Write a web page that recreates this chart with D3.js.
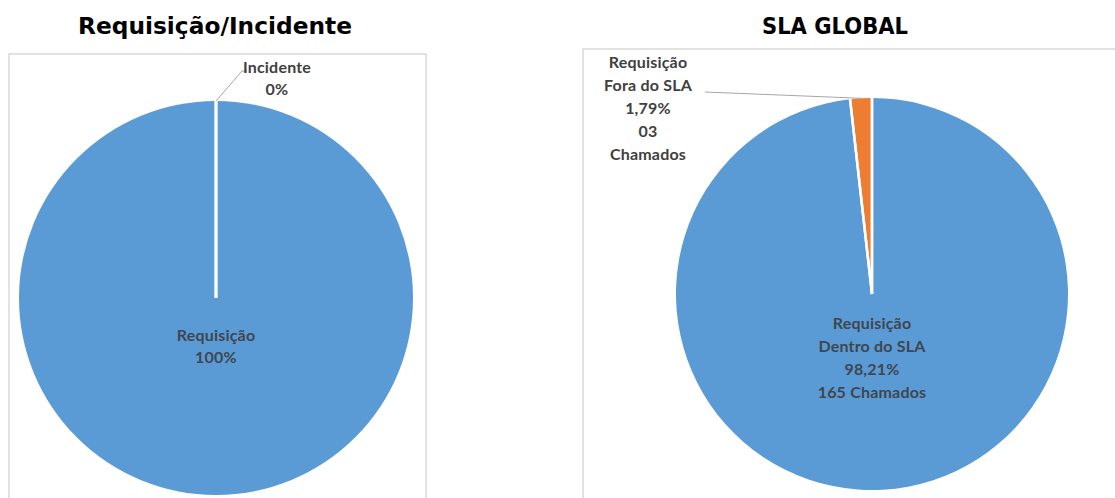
<!DOCTYPE html>
<html>
<head>
<meta charset="utf-8">
<script src="https://cdn.jsdelivr.net/npm/d3@7"></script>
<style>
  html, body { margin: 0; padding: 0; background: #ffffff; }
  svg { display: block; }
</style>
</head>
<body>
<svg id="chart" width="1115" height="498"></svg>
<script>
// ---- Data ----
const leftTitle = "Requisição/Incidente";
const leftCategories = ["Requisição", "Incidente"];
const leftValues = [100, 0];
const leftPercents = ["100%", "0%"];

const rightTitle = "SLA GLOBAL";
const rightCategories = [["Requisição", "Dentro do SLA"], ["Requisição", "Fora do SLA"]];
const rightValues = [165, 3];
const rightPercents = ["98,21%", "1,79%"];
const rightCounts = [["165 Chamados"], ["03", "Chamados"]];

const colors = ["#5B9BD5", "#ED7D31"];

// ---- Drawing ----
const svg = d3.select("#chart");
const labelFont = "Lato, 'Open Sans', sans-serif";
const titleFont = "'DejaVu Sans', sans-serif";

function drawPanel(cfg) {
  const g = svg.append("g");
  g.append("rect")
    .attr("x", cfg.box[0]).attr("y", cfg.box[1])
    .attr("width", cfg.box[2]).attr("height", cfg.box[3])
    .attr("fill", "#fff").attr("stroke", "#d9d9d9").attr("stroke-width", 1.5);
  svg.append("text")
    .attr("x", cfg.titlePos[0]).attr("y", cfg.titlePos[1])
    .attr("text-anchor", "middle")
    .attr("font-family", titleFont).attr("font-weight", "bold")
    .attr("font-size", cfg.titleSize).attr("fill", "#000")
    .attr("textLength", cfg.titleLen).attr("lengthAdjust", "spacingAndGlyphs")
    .text(cfg.title);

  const pie = d3.pie().sort(null).value(d => d)
    .startAngle(0).endAngle(2 * Math.PI);
  const arcs = pie(cfg.values);
  const arc = d3.arc().innerRadius(0).outerRadius(cfg.r);
  const pg = g.append("g").attr("transform", `translate(${cfg.cx},${cfg.cy})`);
  pg.selectAll("path.slice").data(arcs).enter().append("path")
    .attr("class", "slice")
    .attr("d", arc)
    .attr("fill", (d, i) => colors[i]);
  const bounds = [];
  arcs.forEach(d => { bounds.push(d.startAngle); bounds.push(d.endAngle); });
  pg.selectAll("line.sep").data(bounds).enter().append("line")
    .attr("class", "sep")
    .attr("x1", 0).attr("y1", 0)
    .attr("x2", a => Math.sin(a) * cfg.r)
    .attr("y2", a => -Math.cos(a) * cfg.r)
    .attr("stroke", "#fff").attr("stroke-width", 2.5);
  return { arcs, pg };
}

function multiline(parent, x, y, lines, lh, fill) {
  const t = parent.append("text")
    .attr("x", x).attr("y", y)
    .attr("text-anchor", "middle")
    .attr("font-family", labelFont).attr("font-weight", "bold")
    .attr("font-size", 16).attr("fill", fill)
    .attr("letter-spacing", 0.2);
  lines.forEach((l, i) => {
    t.append("tspan").attr("x", x).attr("y", y + i * lh).text(l);
  });
}

// Left panel
const L = { box: [9, 54, 417, 460], cx: 216, cy: 298, r: 197,
  title: leftTitle, titlePos: [215, 34], titleSize: 23, titleLen: 274, values: leftValues };
const left = drawPanel(L);
multiline(svg, L.cx, 341, [leftCategories[0], leftPercents[0]], 22, "#3f4650");
{
  const a = left.arcs[1];
  const mid = (a.startAngle + a.endAngle) / 2;
  const px = L.cx + Math.sin(mid) * L.r, py = L.cy - Math.cos(mid) * L.r;
  svg.append("polyline")
    .attr("points", `${px},${py} ${px + 26},${py - 30} ${px + 31},${py - 30}`)
    .attr("fill", "none").attr("stroke", "#a6a6a6").attr("stroke-width", 1);
  multiline(svg, 277, 73, [leftCategories[1], leftPercents[1]], 22, "#404040");
}

// Right panel
const R = { box: [583, 49, 540, 460], cx: 872, cy: 294, r: 196,
  title: rightTitle, titlePos: [835, 34], titleSize: 23, titleLen: 146, values: rightValues };
const right = drawPanel(R);
multiline(svg, R.cx, 329,
  [...rightCategories[0], rightPercents[0], ...rightCounts[0]], 23, "#3f4650");
{
  const a = right.arcs[1];
  const mid = (a.startAngle + a.endAngle) / 2;
  const px = R.cx + Math.sin(mid) * R.r, py = R.cy - Math.cos(mid) * R.r;
  svg.append("line")
    .attr("x1", 705).attr("y1", 92).attr("x2", px).attr("y2", py)
    .attr("stroke", "#a6a6a6").attr("stroke-width", 1);
  multiline(svg, 648, 68,
    [...rightCategories[1], rightPercents[1], ...rightCounts[1]], 23, "#404040");
}
</script>
</body>
</html>
